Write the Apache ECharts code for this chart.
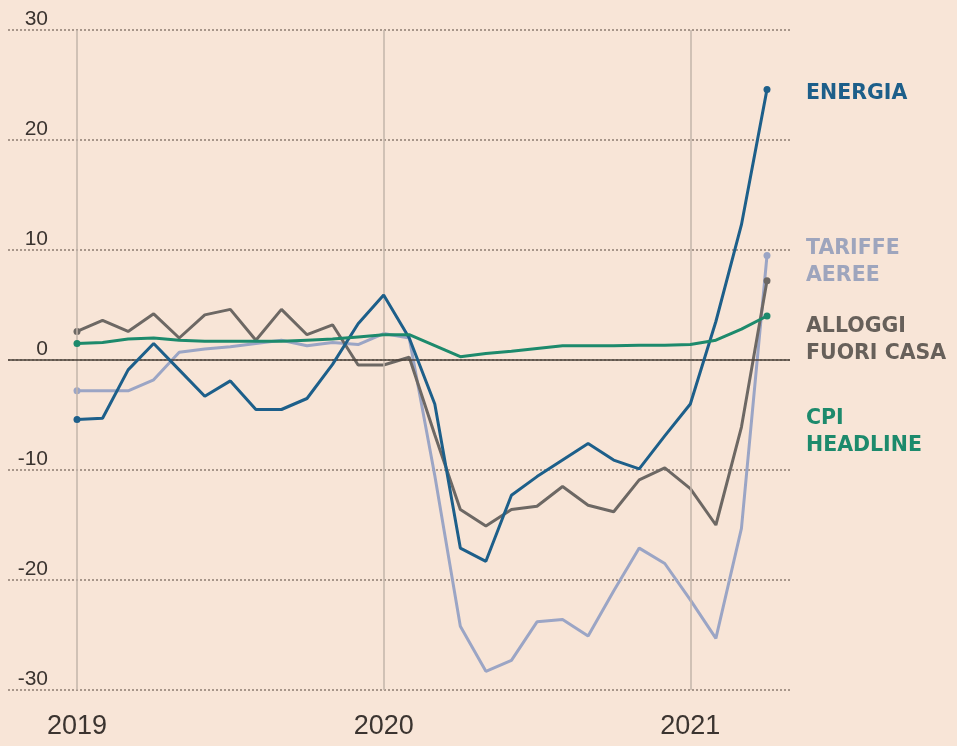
<!DOCTYPE html>
<html>
<head>
<meta charset="utf-8">
<script src="https://cdn.jsdelivr.net/npm/echarts@6/dist/echarts.min.js"></script>
<style>
html,body{margin:0;padding:0;background:#f8e5d7;}
#chart{width:957px;height:746px;}
</style>
</head>
<body>
<div id="chart"></div>
<script>
// Months Jan 2019 .. Apr 2021 (index 0..27)
const monthIdx = Array.from({length: 28}, (_, i) => i);
const yearTicks = [0, 12, 24];
const yearLabels = ['2019', '2020', '2021'];
const yTicks = [-30, -20, -10, 0, 10, 20, 30];

const energia = [-5.4, -5.3, -0.9, 1.5, -0.9, -3.3, -1.9, -4.5, -4.5, -3.5, -0.4, 3.3, 5.9, 2.0,
  -4.0, -17.1, -18.3, -12.3, -10.6, -9.1, -7.6, -9.1, -9.9, -6.9, -4.0, 3.5, 12.3, 24.6];
const tariffeAeree = [-2.8, -2.8, -2.8, -1.8, 0.7, 1.0, 1.2, 1.5, 1.8, 1.3, 1.6, 1.4, 2.4, 2.0,
  -10.5, -24.2, -28.3, -27.3, -23.8, -23.6, -25.1, -21.0, -17.1, -18.5, -21.8, -25.3, -15.3, 9.5];
const alloggi = [2.6, 3.6, 2.6, 4.2, 2.0, 4.1, 4.6, 1.8, 4.6, 2.3, 3.2, -0.45, -0.45, 0.25,
  -6.8, -13.6, -15.1, -13.6, -13.3, -11.5, -13.2, -13.8, -10.9, -9.8, -11.7, -15.0, -6.1, 7.2];
const cpi = [1.5, 1.6, 1.9, 2.0, 1.8, 1.7, 1.7, 1.7, 1.7, 1.8, 1.9, 2.1, 2.3, 2.3,
  1.3, 0.3, 0.6, 0.8, 1.05, 1.3, 1.3, 1.3, 1.35, 1.35, 1.4, 1.8, 2.8, 4.0];

const seriesNames = ['TARIFFE\nAEREE', 'ALLOGGI\nFUORI CASA', 'ENERGIA', 'CPI\nHEADLINE'];
const colors = {energia: '#1d5f8a', tariffe: '#9ba5c5', alloggi: '#6d6864', cpi: '#1d8a6c'};

function toData(arr) {
  const last = arr.length - 1;
  return arr.map((v, i) => ({
    value: [monthIdx[i], v],
    symbol: (i === 0 || i === last) ? 'circle' : 'none',
    symbolSize: 7
  }));
}
function lineSeries(name, arr, color, z) {
  return {
    name: name, type: 'line', data: toData(arr), z: z,
    symbol: 'circle', showSymbol: true, showAllSymbol: true,
    lineStyle: {color: color, width: 3},
    itemStyle: {color: color},
    emphasis: {disabled: true},
    animation: false
  };
}

const chart = echarts.init(document.getElementById('chart'), null, {renderer: 'canvas'});
const labelFont = '"DejaVu Sans", sans-serif';
const option = {
  backgroundColor: '#f8e5d7',
  animation: false,
  grid: {left: 8, right: 167, top: 30, bottom: 56, containLabel: false},
  xAxis: {
    type: 'value', min: -2.7, max: 27.9,
    axisLine: {show: false}, axisTick: {show: false}, splitLine: {show: false},
    axisLabel: {
      customValues: yearTicks,
      formatter: (v) => yearLabels[yearTicks.indexOf(Math.round(v))] || '',
      color: '#3b3430', fontSize: 27, fontFamily: '"Liberation Sans", sans-serif', margin: 23
    }
  },
  yAxis: {
    type: 'value', min: -30, max: 30, interval: 10,
    axisLine: {show: false}, axisTick: {show: false},
    splitLine: {show: true, lineStyle: {type: [2, 2], color: '#8c7c72', width: 1.5}},
    axisLabel: {
      color: '#3b3430', fontSize: 21, fontFamily: '"Liberation Sans", sans-serif',
      margin: -40, align: 'right', verticalAlign: 'bottom', padding: [0, 0, 0, 0]
    }
  },
  series: [
    Object.assign(lineSeries(seriesNames[0], tariffeAeree, colors.tariffe, 3), {
      markLine: {
        silent: true, symbol: 'none', label: {show: false},
        lineStyle: {type: 'solid', color: '#c3b5aa', width: 1.5},
        data: yearTicks.map(t => ({xAxis: t}))
      }
    }),
    Object.assign(lineSeries(seriesNames[1], alloggi, colors.alloggi, 4), {
      markLine: {
        silent: true, symbol: 'none', label: {show: false},
        lineStyle: {type: 'solid', color: '#4a4038', width: 1.5},
        data: [{yAxis: 0}]
      }
    }),
    lineSeries(seriesNames[2], energia, colors.energia, 5),
    lineSeries(seriesNames[3], cpi, colors.cpi, 6)
  ],
  graphic: [
    {type: 'text', left: 806, top: 80, style: {text: 'ENERGIA', fill: colors.energia, font: 'bold 20.5px ' + labelFont, lineHeight: 27}},
    {type: 'text', left: 806, top: 235, style: {text: 'TARIFFE\nAEREE', fill: '#9ea5bd', font: 'bold 20.5px ' + labelFont, lineHeight: 27}},
    {type: 'text', left: 806, top: 313, style: {text: 'ALLOGGI\nFUORI CASA', fill: '#67605a', font: 'bold 20.5px ' + labelFont, lineHeight: 27}},
    {type: 'text', left: 806, top: 405, style: {text: 'CPI\nHEADLINE', fill: colors.cpi, font: 'bold 20.5px ' + labelFont, lineHeight: 27}}
  ]
};
chart.setOption(option);
</script>
</body>
</html>
